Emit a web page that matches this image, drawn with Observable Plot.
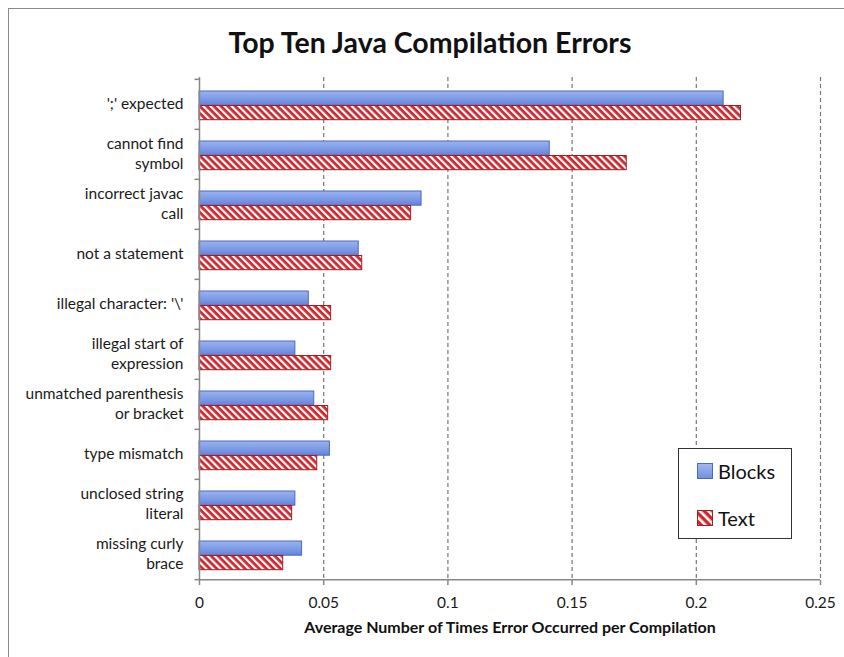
<!DOCTYPE html>
<html>
<head>
<meta charset="utf-8">
<script src="https://cdn.jsdelivr.net/npm/d3@7"></script>
<script src="https://cdn.jsdelivr.net/npm/@observablehq/plot@0.6"></script>
<style>
  html, body { margin: 0; padding: 0; background: #fff; }
  #wrap { position: relative; width: 844px; height: 657px; overflow: hidden; font-family: Lato, "Open Sans", sans-serif; }
  #border { position: absolute; left: 8px; top: 8px; width: 900px; height: 700px; border: 1.5px solid #8a8a8a; box-sizing: border-box; }
  #title { position: relative; height: 60px; text-align: center; font-weight: 700; font-size: 28.5px; line-height: 28px; padding-top: 28px; box-sizing: border-box; color: #111; padding-left: 16px; }
  #chart { position: relative; }
  #legend { position: absolute; left: 678px; top: 448px; width: 114px; height: 91px; border: 1.5px solid #333; background: #fff; box-sizing: border-box; }
  .item { position: absolute; left: 18px; display: flex; align-items: center; font-size: 20px; color: #111; }
  .item svg { margin-right: 5px; }
</style>
</head>
<body>
<div id="wrap">
  <div id="border"></div>
  <div id="title">Top Ten Java Compilation Errors</div>
  <div id="chart"></div>
  <div id="legend">
    <div class="item" style="top: 10px;">
      <svg width="16" height="16"><defs><linearGradient id="lgBlue" x1="0" y1="0" x2="0" y2="1"><stop offset="0" stop-color="#a3b8f0"/><stop offset="1" stop-color="#6f8fe0"/></linearGradient></defs><rect x="0.5" y="0.5" width="15" height="15" fill="url(#lgBlue)" stroke="#4a6bc0"/></svg>Blocks
    </div>
    <div class="item" style="top: 57px;">
      <svg width="16" height="16"><defs><pattern id="lgHatch" width="6" height="6" patternUnits="userSpaceOnUse" patternTransform="rotate(-45)"><rect width="6" height="6" fill="#d0262b"/><rect width="2.6" height="6" fill="#fff"/></pattern></defs><rect x="0.5" y="0.5" width="15" height="15" fill="url(#lgHatch)" stroke="#a31d21"/></svg>Text
    </div>
  </div>
</div>
<script>
// Error categories, top to bottom
const categories = [
  "';' expected",
  "cannot find symbol",
  "incorrect javac call",
  "not a statement",
  "illegal character: '\\'",
  "illegal start of expression",
  "unmatched parenthesis or bracket",
  "type mismatch",
  "unclosed string literal",
  "missing curly brace"
];
// Axis labels for the categories, wrapped onto two lines where needed
const categoryLabels = [
  "';' expected",
  "cannot find\nsymbol",
  "incorrect javac\ncall",
  "not a statement",
  "illegal character: '\\'",
  "illegal start of\nexpression",
  "unmatched parenthesis\nor bracket",
  "type mismatch",
  "unclosed string\nliteral",
  "missing curly\nbrace"
];
// Average number of times each error occurred per compilation
const blocks = [0.211, 0.141, 0.0894, 0.0641, 0.044, 0.0386, 0.0462, 0.0525, 0.0386, 0.0413];
const text   = [0.218, 0.172, 0.0852, 0.0655, 0.053, 0.053, 0.0518, 0.0474, 0.0373, 0.0337];
// x axis ticks
const xTicks = [0, 0.05, 0.1, 0.15, 0.2, 0.25];
const xTickLabels = ["0", "0.05", "0.1", "0.15", "0.2", "0.25"];
const xLabel = "Average Number of Times Error Occurred per Compilation";

const blockRows = categories.map((c, i) => ({category: c, value: blocks[i]}));
const textRows = categories.map((c, i) => ({category: c, value: text[i]}));

const W = 844, H = 597;
const M = {top: 17, right: 24, bottom: 77, left: 199};
const step = (H - M.top - M.bottom) / categories.length;
const barH = 14.5, gapTop = 12;

const tickSymbol = {draw(ctx) { ctx.moveTo(-5, 0); ctx.lineTo(0, 0); }};

const chart = Plot.plot({
  width: W,
  height: H,
  marginTop: M.top,
  marginRight: M.right,
  marginBottom: M.bottom,
  marginLeft: M.left,
  style: {fontFamily: "Lato, 'Open Sans', sans-serif", background: "transparent", overflow: "visible"},
  x: {domain: [0, 0.25]},
  y: {domain: categories, padding: 0},
  marks: [
    // dashed vertical gridlines
    Plot.ruleX(xTicks.slice(1), {stroke: "#777", strokeWidth: 1.2, strokeDasharray: "4,3"}),
    // Blocks bars (upper bar of each pair)
    Plot.barX(blockRows, {
      x: "value", y: "category",
      insetTop: gapTop, insetBottom: step - gapTop - barH,
      fill: "url(#gBlue)", stroke: "#4a6bc0", strokeWidth: 1,
      style: "filter: drop-shadow(1px 1.5px 1px rgba(0,0,0,0.3))"
    }),
    // Text bars (lower bar, hatched)
    Plot.barX(textRows, {
      x: "value", y: "category",
      insetTop: gapTop + barH, insetBottom: step - gapTop - 2 * barH,
      fill: "url(#hatchRed)", stroke: "#a31d21", strokeWidth: 1,
      style: "filter: drop-shadow(1px 1.5px 1px rgba(0,0,0,0.3))"
    }),
    // axis lines
    Plot.ruleX([0], {stroke: "#888", strokeWidth: 1.5}),
    Plot.ruleY(categories.slice(-1), {y: d => d, dy: step / 2, stroke: "#888", strokeWidth: 1.5}),
    // category boundary ticks on the y axis
    Plot.dot(categories, {x: () => 0, y: d => d, dy: -step / 2, symbol: tickSymbol, stroke: "#888", strokeWidth: 1.5, r: 5}),
    Plot.dot(categories.slice(-1), {x: () => 0, y: d => d, dy: step / 2, symbol: tickSymbol, stroke: "#888", strokeWidth: 1.5, r: 5}),
    Plot.axisY({
      tickSize: 0, tickPadding: 16, fontSize: 15.5, lineHeight: 1.3, fill: "#1a1a1a", dy: -2,
      tickFormat: d => categoryLabels[categories.indexOf(d)], label: null
    }),
    Plot.axisX({
      ticks: xTicks, tickSize: 5, tickPadding: 11, fontSize: 15.5, stroke: "#888", strokeWidth: 1.5, fill: "#1a1a1a",
      tickFormat: d => xTickLabels[xTicks.indexOf(d)], label: null
    }),
    Plot.text([xLabel], {frameAnchor: "bottom", dy: 52, fontWeight: "bold", fontSize: 16, fill: "#111"})
  ]
});

// gradient and hatch pattern used by the bars
const defs = d3.select(chart).insert("defs", ":first-child");
const grad = defs.append("linearGradient").attr("id", "gBlue").attr("x1", 0).attr("y1", 0).attr("x2", 0).attr("y2", 1);
grad.append("stop").attr("offset", 0).attr("stop-color", "#9db3ee");
grad.append("stop").attr("offset", 0.5).attr("stop-color", "#7f9de8");
grad.append("stop").attr("offset", 1).attr("stop-color", "#6483d8");
const pat = defs.append("pattern").attr("id", "hatchRed").attr("width", 5).attr("height", 5)
  .attr("patternUnits", "userSpaceOnUse").attr("patternTransform", "rotate(-45)");
pat.append("rect").attr("width", 5).attr("height", 5).attr("fill", "#d0262b");
pat.append("rect").attr("width", 2.2).attr("height", 5).attr("fill", "#fff");

document.getElementById("chart").append(chart);
</script>
</body>
</html>
